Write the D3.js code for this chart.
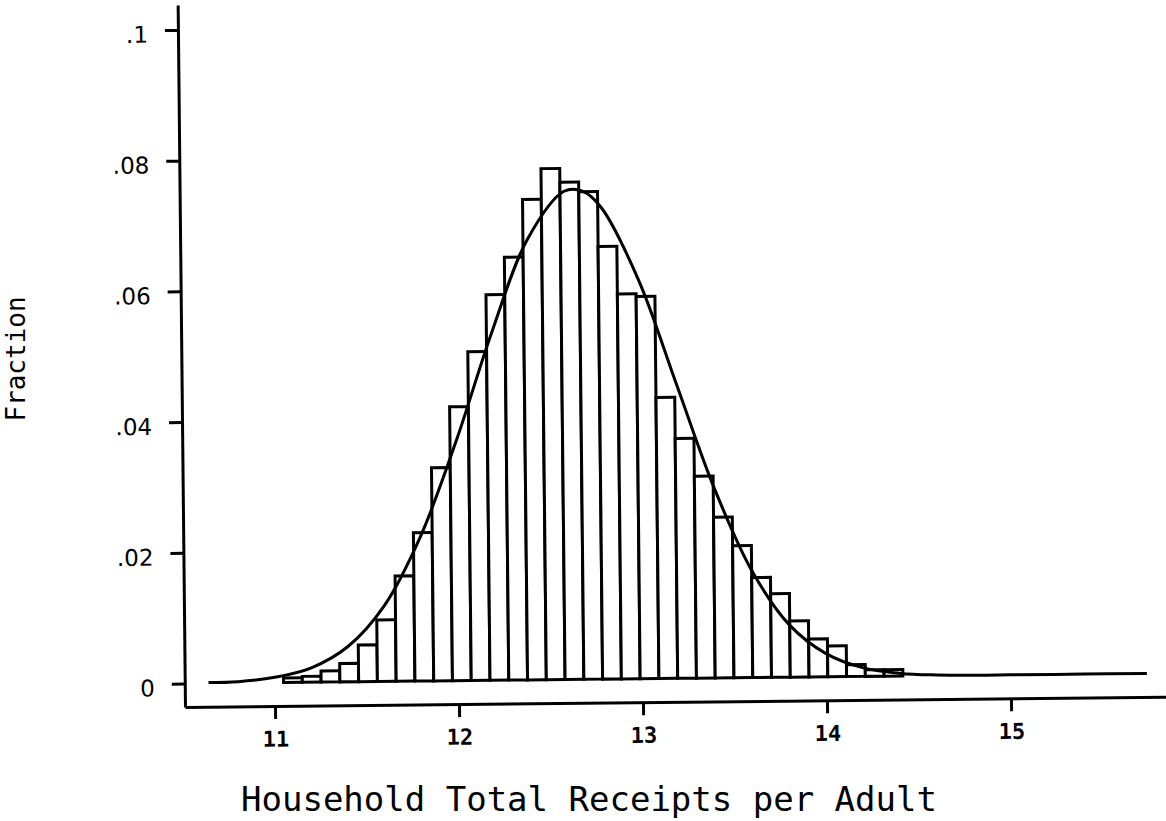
<!DOCTYPE html>
<html>
<head>
<meta charset="utf-8">
<script src="https://cdn.jsdelivr.net/npm/d3@7"></script>
<style>
  body { margin: 0; background: #fff; }
  svg { display: block; }
</style>
</head>
<body>
<div class="canvas"></div>
<script>
/////////////////////////////////
//** DATA **//

// histogram bins (equal width, first non-empty bin is index 4)
const binStart = 10.64;
const binWidth = 0.102;
const firstBin = 4;
const fractions = [
  0.0007, 0.0009, 0.0017, 0.0028, 0.0056, 0.0094, 0.0161, 0.0227, 0.0326, 0.0419,
  0.0503, 0.0590, 0.0647, 0.0735, 0.0782, 0.0761, 0.0746, 0.0662, 0.0589, 0.0585,
  0.0430, 0.0367, 0.0309, 0.0246, 0.0202, 0.0153, 0.0128, 0.0086, 0.0058, 0.0047,
  0.0018, 0.0010, 0.0010
];

// overlaid normal curve
const curveX = [10.64, 10.8, 11.0, 11.2, 11.4, 11.6, 11.8, 12.0, 12.2, 12.4, 12.6, 12.7,
  12.8, 13.0, 13.2, 13.4, 13.6, 13.8, 14.0, 14.2, 14.4, 14.6, 14.8, 15.0, 15.4, 15.74];
const curveY = [0.0001, 0.0002, 0.0008, 0.0022, 0.0054, 0.0116, 0.0221, 0.0367, 0.0533, 0.0675, 0.0747, 0.0747,
  0.0722, 0.0610, 0.0450, 0.0290, 0.0163, 0.0080, 0.0035, 0.0013, 0.0004, 0.0001, 0, 0, 0, 0];

// ticks
const xTicks = [11, 12, 13, 14, 15];
const yTicks = [0, 0.02, 0.04, 0.06, 0.08, 0.1];
const yTickLabels = ['0', '.02', '.04', '.06', '.08', '.1'];

const xTitle = 'Household Total Receipts per Adult';
const yTitle = 'Fraction';

/////////////////////////////////
//** SVG CONTAINER **//

const dims = { width: 1166, height: 821 };

const svg = d3.select('.canvas')
  .append('svg')
  .attr('width', dims.width)
  .attr('height', dims.height);

// the scanned page is tilted a little, so the plot is too
const corner = { x: 185, y: 707 };
const graph = svg.append('g')
  .attr('transform', `rotate(-0.6, ${corner.x}, ${corner.y})`);

// scales
const x = d3.scaleLinear().domain([11, 15]).range([275, 1011]);
const y = d3.scaleLinear().domain([0, 0.1]).range([683.5, 29.9]);

// axis scales run out to the ends of the drawn axis lines
const xAxisScale = x.copy().domain([x.invert(corner.x), x.invert(1180)]).range([corner.x, 1180]);
const yAxisScale = y.copy().domain([y.invert(corner.y), y.invert(5)]).range([corner.y, 5]);

/////////////////////////////////
//** BARS **//

const bins = fractions.map((f, i) => ({
  x0: binStart + (firstBin + i) * binWidth,
  x1: binStart + (firstBin + i + 1) * binWidth,
  f
}));

graph.selectAll('rect.bar')
  .data(bins)
  .enter()
  .append('rect')
  .attr('class', 'bar')
  .attr('x', d => x(d.x0))
  .attr('width', d => x(d.x1) - x(d.x0))
  .attr('y', d => y(d.f))
  .attr('height', d => y(0) - y(d.f))
  .attr('fill', '#fff')
  .attr('stroke', '#000')
  .attr('stroke-width', 3);

/////////////////////////////////
//** NORMAL CURVE **//

const line = d3.line()
  .x(d => x(d[0]))
  .y(d => y(d[1]))
  .curve(d3.curveCatmullRom.alpha(0.5));

graph.append('path')
  .datum(d3.zip(curveX, curveY))
  .attr('d', line)
  .attr('fill', 'none')
  .attr('stroke', '#000')
  .attr('stroke-width', 3)
  .attr('stroke-linejoin', 'round');

/////////////////////////////////
//** AXES **//

const xAxis = d3.axisBottom(xAxisScale)
  .tickValues(xTicks)
  .tickFormat(d3.format('d'))
  .tickSize(13)
  .tickSizeOuter(0)
  .tickPadding(12);

const yAxis = d3.axisLeft(yAxisScale)
  .tickValues(yTicks)
  .tickFormat((d, i) => yTickLabels[i])
  .tickSize(13)
  .tickSizeOuter(0)
  .tickPadding(17);

const xAxisG = graph.append('g')
  .attr('transform', `translate(0, ${corner.y})`)
  .call(xAxis);

const yAxisG = graph.append('g')
  .attr('transform', `translate(${corner.x}, 0)`)
  .call(yAxis);

[xAxisG, yAxisG].forEach(g => {
  g.select('.domain').attr('stroke', '#000').attr('stroke-width', 3);
  g.selectAll('.tick line').attr('stroke', '#000').attr('stroke-width', 3);
});

xAxisG.selectAll('.tick text')
  .attr('fill', '#000')
  .attr('font-family', '"DejaVu Sans Mono", monospace')
  .attr('font-weight', 'bold')
  .attr('font-size', 22);

yAxisG.selectAll('.tick text')
  .attr('fill', '#000')
  .attr('font-family', '"DejaVu Sans", sans-serif')
  .attr('font-size', 23)
  .attr('dy', '0.52em');

/////////////////////////////////
//** TITLES **//

svg.append('text')
  .attr('x', 589)
  .attr('y', 811)
  .attr('text-anchor', 'middle')
  .attr('font-family', '"DejaVu Sans Mono", monospace')
  .attr('font-size', 34)
  .attr('fill', '#000')
  .text(xTitle);

svg.append('text')
  .attr('transform', 'translate(25, 359) rotate(-90)')
  .attr('text-anchor', 'middle')
  .attr('font-family', '"DejaVu Sans Mono", monospace')
  .attr('font-size', 26)
  .attr('fill', '#000')
  .text(yTitle);
</script>
</body>
</html>
